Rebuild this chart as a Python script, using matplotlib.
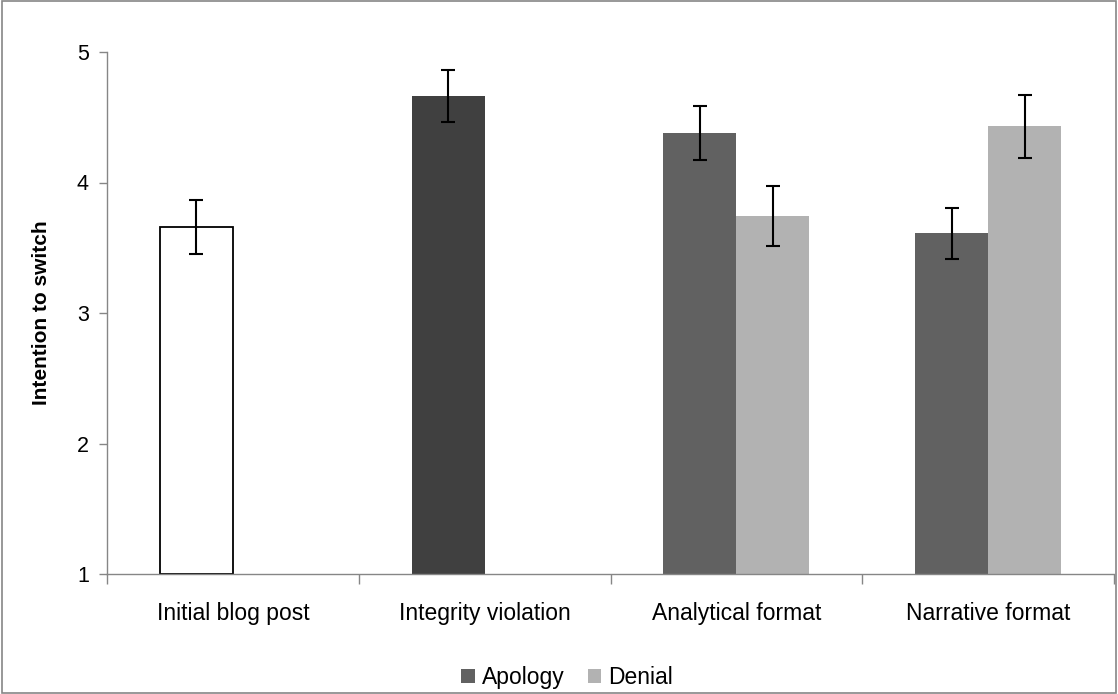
import numpy as np
import matplotlib.pyplot as plt

plt.rcParams['font.family'] = ['Liberation Sans', 'DejaVu Sans']

categories = ['Initial blog post', 'Integrity violation', 'Analytical format', 'Narrative format']
# single bars (no manipulation)
single_vals = [3.66, 4.66]
single_err = [0.205, 0.20]
# apology / denial for the two formats
apology_vals = [4.38, 3.61]
apology_err = [0.205, 0.195]
denial_vals = [3.74, 4.43]
denial_err = [0.23, 0.24]
y_ticks = [1, 2, 3, 4, 5]

fig = plt.figure(figsize=(11.18, 6.94), dpi=100)
ax = fig.add_axes([107 / 1118, 1 - 574 / 694, (1114 - 107) / 1118, (574 - 52) / 694])

# grey border round the whole chart
fig.patches.append(plt.Rectangle((0.002, 0.002), 0.996, 0.996, transform=fig.transFigure,
                                 fill=False, edgecolor='#868686', linewidth=1.2))

x = np.arange(len(categories))
w = 0.29
ekw = dict(ecolor='black', capsize=4.7, elinewidth=1.5, capthick=1.5)

ax.bar(x[0] - w / 2, single_vals[0] - 1, w, bottom=1, color='white', edgecolor='black',
       linewidth=1.3, yerr=single_err[0], error_kw=ekw, zorder=2)
ax.bar(x[1] - w / 2, single_vals[1] - 1, w, bottom=1, color='#404040',
       yerr=single_err[1], error_kw=ekw, zorder=2)
ax.bar(x[2:] - w / 2, np.array(apology_vals) - 1, w, bottom=1, color='#616161',
       yerr=apology_err, error_kw=ekw, label='Apology', zorder=2)
ax.bar(x[2:] + w / 2, np.array(denial_vals) - 1, w, bottom=1, color='#b2b2b2',
       yerr=denial_err, error_kw=ekw, label='Denial', zorder=2)

ax.set_xlim(-0.5, len(categories) - 0.5)
ax.set_ylim(1, 5)
ax.set_yticks(y_ticks)
ax.set_xticks(x)
ax.set_xticklabels(categories)
ax.set_xticks(np.arange(len(categories) + 1) - 0.5, minor=True)
ax.tick_params(axis='x', which='major', length=0, pad=20, labelsize=16.5)
ax.tick_params(axis='x', which='minor', length=7, color='#868686', width=1)
ax.tick_params(axis='y', length=6, color='#868686', width=1, labelsize=15.5, pad=7)

for s in ['top', 'right']:
    ax.spines[s].set_visible(False)
for s in ['left', 'bottom']:
    ax.spines[s].set_color('#868686')
    ax.spines[s].set_linewidth(1)

ax.set_ylabel('Intention to switch', fontsize=15, fontweight='bold', labelpad=19)

ax.legend(loc='center', bbox_to_anchor=(0.457, -0.198), ncol=2, frameon=False,
          fontsize=16.5, handlelength=0.6, handleheight=0.6, handletextpad=0.3,
          columnspacing=1.0)

fig.savefig('out.png', dpi=100)
